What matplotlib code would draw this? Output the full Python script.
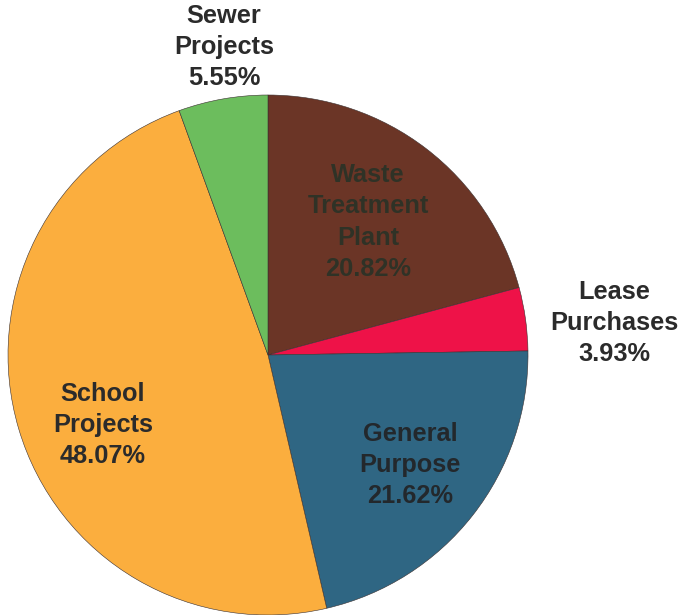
import matplotlib
matplotlib.use("Agg")
import matplotlib.pyplot as plt

# debt by purpose, clockwise from 12 o'clock
categories = ["Waste\nTreatment\nPlant", "Lease\nPurchases", "General\nPurpose",
              "School\nProjects", "Sewer\nProjects"]
shares = [20.82, 3.93, 21.62, 48.07, 5.55]
colors = ["#6b3526", "#ee1248", "#2f6683", "#fbae3e", "#6cbd5d"]

# label anchors in pixel space (x right, y down), and text colour per label
label_xy = [(368, 222), (614, 323), (410, 465), (103, 425), (224, 47)]
label_col = ["#2f3226", "#2b2b2b", "#23282c", "#2b2b2b", "#2b2b2b"]

W, H = 679, 615
fig = plt.figure(figsize=(W / 100, H / 100), dpi=100)
ax = fig.add_axes([0, 0, 1, 1])

ax.pie(shares, colors=colors, startangle=90, counterclock=False,
       center=(268, H - 355), radius=260, frame=True,
       wedgeprops=dict(edgecolor="#3a3030", linewidth=0.4))
ax.set_xlim(0, W); ax.set_ylim(0, H)
ax.set_aspect("equal"); ax.axis("off")

for name, pct, (x, y), c in zip(categories, shares, label_xy, label_col):
    ax.text(x, H - y, f"{name}\n{pct:.2f}%", ha="center", va="center",
            fontsize=18.3, fontweight="bold", color=c, family="Liberation Sans",
            linespacing=1.38)

fig.savefig("out.png", dpi=100)
